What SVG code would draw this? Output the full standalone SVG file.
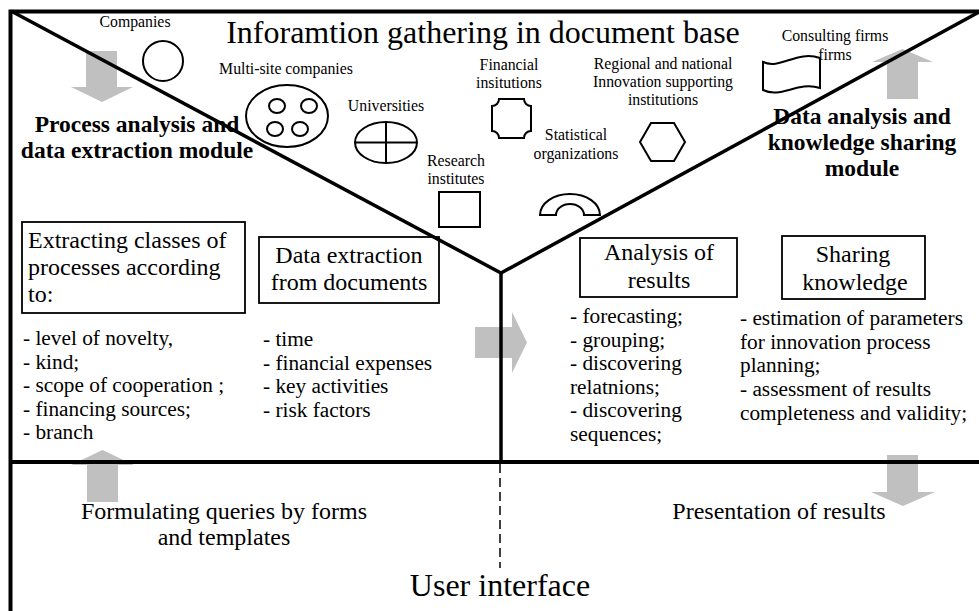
<svg xmlns="http://www.w3.org/2000/svg" width="979" height="611" viewBox="0 0 979 611">
  <style>
    .t { font-family: "Liberation Serif", "Times New Roman", serif; fill: #000; }
    .lbl { font-size: 15.8px; text-anchor: middle; }
    .hd { font-size: 24px; }
    .mid { text-anchor: middle; }
    .li { font-size: 21.3px; }
    .bold { font-size: 23.5px; font-weight: bold; text-anchor: middle; }
    .shape { fill: none; stroke: #000; stroke-width: 2; }
    .box { fill: none; stroke: #000; stroke-width: 1.8; }
    .arrow { fill: #c0c0c0; stroke: none; }
    .rule { fill: none; stroke: #000; stroke-width: 4; }
    .div { fill: none; stroke: #000; stroke-width: 3.5; stroke-linejoin: miter; }
  </style>
  <rect width="979" height="611" fill="#fff"/>

  <!-- flow arrows between the modules -->
  <g id="connectors">
    <path class="arrow" d="M86,51 H117 V87 H133 L102,102 L71,87 H86 Z"/>
    <path class="arrow" d="M887,99 V62 H872 L902.5,49 L933,62 H918 V99 Z"/>
    <path class="arrow" d="M475,327 H512 V312 L527,342.5 L512,373 V358 H475 Z"/>
    <path class="arrow" d="M87,502 V465 H71 L102.5,450 L134,465 H118 V502 Z"/>
    <path class="arrow" d="M887,455 H918 V492 H935 L903,506 L871,492 H887 Z"/>
  </g>

  <!-- frame and section dividers -->
  <g id="frame">
    <path class="rule" d="M10.5,611 V11.5 H979"/>
    <path class="rule" d="M10,462 H979"/>
    <path class="div" d="M11,11 L501,273 L979,12"/>
    <path class="div" stroke-width="3" d="M501,273 V462"/>
    <path fill="none" stroke="#000" stroke-width="1.5" stroke-dasharray="9 5" d="M500,464 V568"/>
  </g>

  <g id="title">
    <text class="t mid" x="483" y="43" font-size="32">Inforamtion gathering in document base</text>
  </g>

  <g id="companies">
    <text class="t lbl" x="135" y="27" font-size="15.3">Companies</text>
    <circle class="shape" cx="163" cy="61" r="20"/>
  </g>

  <g id="multi-site">
    <text class="t lbl" x="286" y="74">Multi-site companies</text>
    <ellipse class="shape" cx="287" cy="116" rx="41" ry="31"/>
    <ellipse class="shape" cx="277" cy="106" rx="8" ry="7"/>
    <ellipse class="shape" cx="309" cy="106" rx="8" ry="7"/>
    <ellipse class="shape" cx="275" cy="129" rx="8" ry="7"/>
    <ellipse class="shape" cx="300" cy="129" rx="8" ry="7"/>
  </g>

  <g id="universities">
    <text class="t lbl" x="386" y="111">Universities</text>
    <ellipse class="shape" cx="386" cy="142.5" rx="31" ry="20.5"/>
    <path class="shape" d="M355,142.5 H417 M386,122 V163"/>
  </g>

  <g id="financial">
    <text class="t lbl"><tspan x="509" y="70">Financial</tspan><tspan x="509" y="88">insitutions</tspan></text>
    <path class="shape" d="M499,99 H524 A7,7 0 0 0 531,106 V131 A7,7 0 0 0 524,138 H499 A7,7 0 0 0 492,131 V106 A7,7 0 0 0 499,99 Z"/>
  </g>

  <g id="research">
    <text class="t lbl"><tspan x="456" y="166">Research</tspan><tspan x="456" y="184">institutes</tspan></text>
    <rect class="shape" x="439" y="192" width="41" height="35"/>
  </g>

  <g id="statistical">
    <text class="t lbl"><tspan x="576" y="140">Statistical</tspan><tspan x="576" y="159">organizations</tspan></text>
    <path class="shape" d="M540,215 A30,21 0 0 1 600,215 H584 A14,11 0 0 0 556,215 Z"/>
  </g>

  <g id="regional">
    <text class="t lbl"><tspan x="663" y="69">Regional and national</tspan><tspan x="663" y="87">Innovation supporting</tspan><tspan x="663" y="105">institutions</tspan></text>
    <polygon class="shape" points="640,142 651,123 674,123 685,142 674,161 651,161"/>
  </g>

  <g id="consulting">
    <text class="t lbl" font-size="15.3"><tspan x="835" y="41">Consulting firms</tspan><tspan x="835" y="60">firms</tspan></text>
    <path class="shape" d="M763,62 C780,70 797,50 820,58 V88 C797,81 781,99 763,90 Z"/>
  </g>

  <g id="process-module">
    <text class="t bold"><tspan x="137" y="132">Process analysis and</tspan><tspan x="137" y="158">data extraction module</tspan></text>
  </g>

  <g id="analysis-module">
    <text class="t bold"><tspan x="862" y="124">Data analysis and</tspan><tspan x="862" y="150">knowledge sharing</tspan><tspan x="862" y="176">module</tspan></text>
  </g>

  <g id="extracting-classes">
    <rect class="box" x="22" y="222" width="223" height="91"/>
    <text class="t hd"><tspan x="28" y="248">Extracting classes of</tspan><tspan x="28" y="275">processes according</tspan><tspan x="28" y="302">to:</tspan></text>
    <text class="t li"><tspan x="23" y="345">- level of novelty,</tspan><tspan x="23" y="368.5">- kind;</tspan><tspan x="23" y="392">- scope of cooperation ;</tspan><tspan x="23" y="415.5">- financing sources;</tspan><tspan x="23" y="439">- branch</tspan></text>
  </g>

  <g id="data-extraction">
    <rect class="box" x="259" y="237" width="180" height="66"/>
    <text class="t hd mid"><tspan x="349" y="263">Data extraction</tspan><tspan x="349" y="290">from documents</tspan></text>
    <text class="t li"><tspan x="263" y="346">- time</tspan><tspan x="263" y="370">- financial expenses</tspan><tspan x="263" y="393">- key activities</tspan><tspan x="263" y="417">- risk factors</tspan></text>
  </g>

  <g id="analysis-results">
    <rect class="box" x="580" y="238" width="157" height="59"/>
    <text class="t hd mid"><tspan x="659" y="260">Analysis of</tspan><tspan x="659" y="288">results</tspan></text>
    <text class="t li"><tspan x="570" y="323">- forecasting;</tspan><tspan x="570" y="346.5">- grouping;</tspan><tspan x="570" y="370">- discovering</tspan><tspan x="570" y="393.5">relatnions;</tspan><tspan x="570" y="417">- discovering</tspan><tspan x="570" y="440.5">sequences;</tspan></text>
  </g>

  <g id="sharing-knowledge">
    <rect class="box" x="782" y="236" width="143" height="63"/>
    <text class="t hd mid"><tspan x="853" y="262">Sharing</tspan><tspan x="855" y="290">knowledge</tspan></text>
    <text class="t li" font-size="22"><tspan x="740" y="325">- estimation of parameters</tspan><tspan x="740" y="348.5">for innovation process</tspan><tspan x="740" y="372">planning;</tspan><tspan x="740" y="396">- assessment of results</tspan><tspan x="740" y="420">completeness and validity;</tspan></text>
  </g>

  <g id="queries">
    <text class="t hd mid"><tspan x="224" y="519">Formulating queries by forms</tspan><tspan x="224" y="545">and templates</tspan></text>
  </g>

  <g id="presentation">
    <text class="t hd mid" x="779" y="519">Presentation of results</text>
  </g>

  <g id="user-interface">
    <text class="t mid" x="500" y="596" font-size="32">User interface</text>
  </g>
</svg>
